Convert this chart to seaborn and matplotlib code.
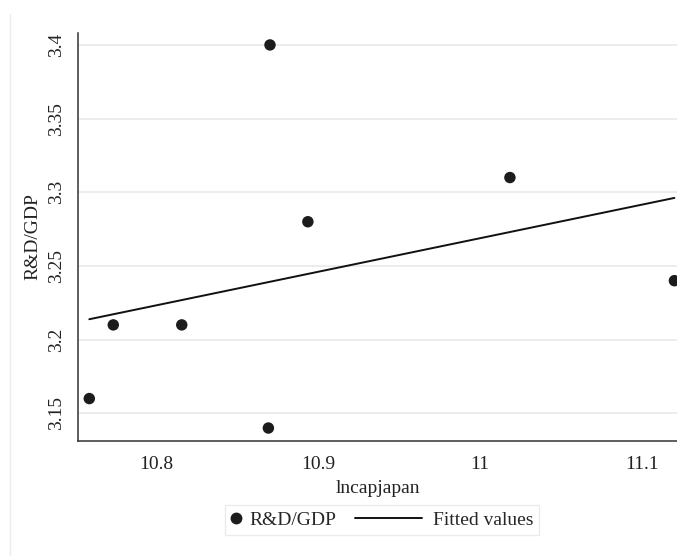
import numpy as np
import pandas as pd
import matplotlib
matplotlib.use("Agg")
import matplotlib.pyplot as plt
from matplotlib.lines import Line2D
from matplotlib.legend_handler import HandlerLine2D
import seaborn as sns

# Observations: log capital (Japan) vs R&D share of GDP
lncapjapan = [10.7586, 10.7734, 10.8157, 10.8692, 10.8702, 10.8936, 11.0184, 11.1200]
rd_gdp = [3.16, 3.21, 3.21, 3.14, 3.40, 3.28, 3.31, 3.24]

x_ticks = [10.8, 10.9, 11.0, 11.1]
x_tick_labels = ["10.8", "10.9", "11", "11.1"]
y_ticks = [3.15, 3.2, 3.25, 3.3, 3.35, 3.4]
y_tick_labels = ["3.15", "3.2", "3.25", "3.3", "3.35", "3.4"]

df = pd.DataFrame({"lncapjapan": lncapjapan, "R&D/GDP": rd_gdp})

# OLS fitted values
slope, intercept = np.polyfit(df["lncapjapan"], df["R&D/GDP"], 1)
fit = pd.DataFrame({"lncapjapan": [df["lncapjapan"].min(), df["lncapjapan"].max()]})
fit["Fitted values"] = intercept + slope * fit["lncapjapan"]


class MarkerKey(HandlerLine2D):
    """Legend key with the marker near the left of a short key box."""
    def get_xdata(self, legend, xdescent, ydescent, width, height, fontsize):
        x = np.array([0.26 * fontsize - xdescent])
        return x, x


class LongLineKey(HandlerLine2D):
    """Legend key whose line reaches further left than the key box."""
    def get_xdata(self, legend, xdescent, ydescent, width, height, fontsize):
        x = np.array([-3.03 * fontsize - xdescent, width - xdescent])
        return x, x


sns.set_theme(style="white")
plt.rcParams["font.family"] = ["Liberation Serif", "DejaVu Serif"]

fig = plt.figure(figsize=(6.77, 5.56), dpi=100)
ax = fig.add_axes([78.3 / 677, 1 - 440.7 / 556, 1 - 78.3 / 677, (440.7 - 33.3) / 556])

for yv in y_ticks:
    ax.axhline(yv, color="#eaeaea", lw=1.3, zorder=0)

sns.scatterplot(data=df, x="lncapjapan", y="R&D/GDP", ax=ax, color="#1c1c1c",
                s=68, edgecolor="none", zorder=3, legend=False)
sns.lineplot(data=fit, x="lncapjapan", y="Fitted values", ax=ax, color="#111111",
             lw=1.4, zorder=2, legend=False)

ax.set_xlim(10.7518, 11.1216)
ax.set_ylim(3.1314, 3.4079)
ax.set_xticks(x_ticks)
ax.set_xticklabels(x_tick_labels)
ax.set_yticks(y_ticks)
ax.set_yticklabels(y_tick_labels, rotation=90, va="center")

ax.tick_params(axis="both", which="major", direction="out", length=5.3, width=1.0,
               color="#333333", labelsize=14, labelcolor="#222222")
ax.tick_params(axis="x", pad=6)
ax.tick_params(axis="y", pad=4)

for side in ["top", "right"]:
    ax.spines[side].set_visible(False)
for side in ["left", "bottom"]:
    ax.spines[side].set_color("#333333")
    ax.spines[side].set_linewidth(1.1)

ax.set_xlabel("lncapjapan", fontsize=14, color="#222222", labelpad=5)
ax.set_ylabel("R&D/GDP", fontsize=14, color="#222222", labelpad=5)

dot_key = Line2D([], [], marker="o", ls="none", color="#1c1c1c", markersize=7.5)
line_key = Line2D([], [], color="#111111", lw=1.4)
fig.legend([dot_key, line_key], ["R&D/GDP", "Fitted values"], ncol=2, loc="center",
           bbox_to_anchor=(382 / 677, 1 - 520 / 556), fontsize=14, frameon=True,
           fancybox=False, edgecolor="#e6e6e6", handlelength=0.41, handletextpad=0.55,
           columnspacing=4.0, borderpad=0.3,
           handler_map={dot_key: MarkerKey(), line_key: LongLineKey()})

# faint outer frame line on the left
fig.add_artist(Line2D([9.5 / 677, 9.5 / 677], [0, 1 - 14 / 556],
                      transform=fig.transFigure, color="#ececec", lw=1.0))

fig.savefig("out.png", dpi=100)
